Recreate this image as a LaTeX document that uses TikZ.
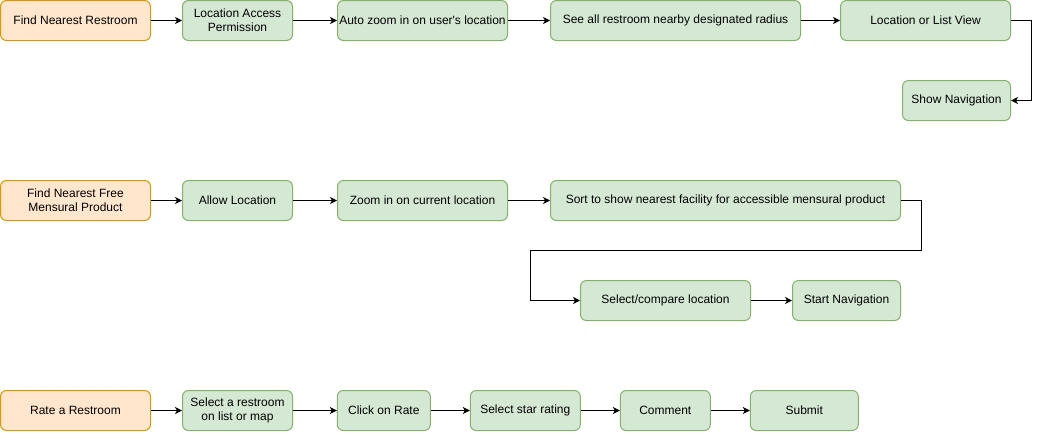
\documentclass[tikz,border=0pt]{standalone}
\usepackage{fontspec}
\setmainfont{Liberation Sans}
\usepackage{xcolor}
\usetikzlibrary{arrows.meta}
\definecolor{startFill}{HTML}{FFE6CC}
\definecolor{startLine}{HTML}{D79B00}
\definecolor{stepFill}{HTML}{D5E8D4}
\definecolor{stepLine}{HTML}{82B366}
\tikzset{startBox/.style={draw=startLine, fill=startFill, rounded corners=6pt, line width=1pt, minimum width=150pt, minimum height=40pt, inner sep=0pt, align=center, font=\fontsize{12pt}{14pt}\selectfont}}
\tikzset{stepBox/.style={draw=stepLine, fill=stepFill, rounded corners=6pt, line width=1pt, minimum height=40pt, inner sep=0pt, align=center, font=\fontsize{12pt}{14pt}\selectfont}}
\tikzset{flow/.style={draw, line width=1pt, -{Stealth[length=7pt,width=7pt,inset=2pt]}}}

\begin{document}
\begin{tikzpicture}[x=1pt, y=-1pt]
\useasboundingbox (0,0) rectangle (1040,432);

\node[startBox] (a1) at (75.5, 20.5) {Find Nearest Restroom};
\node[stepBox, minimum width=110pt] (a2) at (237.5, 20.5) {Location Access\\Permission};
\node[stepBox, minimum width=170pt] (a3) at (422.5, 20.5) {Auto zoom in on user\textquotesingle s location};
\node[stepBox, minimum width=250pt] (a4) at (675.5, 20.5) {See all restroom nearby designated radius};
\node[stepBox, minimum width=170pt] (a5) at (925.5, 20.5) {Location or List View};
\node[stepBox, minimum width=108pt] (a6) at (956.5, 100.5) {Show Navigation};

\node[startBox] (b1) at (75.5, 200.5) {Find Nearest Free\\Mensural Product};
\node[stepBox, minimum width=110pt] (b2) at (237.5, 200.5) {Allow Location};
\node[stepBox, minimum width=170pt] (b3) at (422.5, 200.5) {Zoom in on current location};
\node[stepBox, minimum width=350pt] (b4) at (725.5, 200.5) {Sort to show nearest facility for accessible mensural product};
\node[stepBox, minimum width=170pt] (b5) at (665.5, 300.5) {Select/compare location};
\node[stepBox, minimum width=108pt] (b6) at (846.5, 300.5) {Start Navigation};
\coordinate (turn) at (530.5, 250.5);

\node[startBox] (c1) at (75.5, 410.5) {Rate a Restroom};
\node[stepBox, minimum width=110pt] (c2) at (237.5, 410.5) {Select a restroom\\on list or map};
\node[stepBox, minimum width=93pt] (c3) at (383.8, 410.5) {Click on Rate};
\node[stepBox, minimum width=110pt] (c4) at (525.3, 410.5) {Select star rating};
\node[stepBox, minimum width=90pt] (c5) at (665.3, 410.5) {Comment};
\node[stepBox, minimum width=108pt] (c6) at (804.3, 410.5) {Submit};

\draw[flow] (a1) -- (a2);
\draw[flow] (a2) -- (a3);
\draw[flow] (a3) -- (a4);
\draw[flow] (a4) -- (a5);
\draw[flow] (a5.east) -- ++(20,0) |- (a6.east);

\draw[flow] (b1) -- (b2);
\draw[flow] (b2) -- (b3);
\draw[flow] (b3) -- (b4);
\draw[flow] (b4.east) -- ++(20,0) |- (turn) |- (b5.west);
\draw[flow] (b5) -- (b6);

\draw[flow] (c1) -- (c2);
\draw[flow] (c2) -- (c3);
\draw[flow] (c3) -- (c4);
\draw[flow] (c4) -- (c5);
\draw[flow] (c5) -- (c6);

\end{tikzpicture}
\end{document}
